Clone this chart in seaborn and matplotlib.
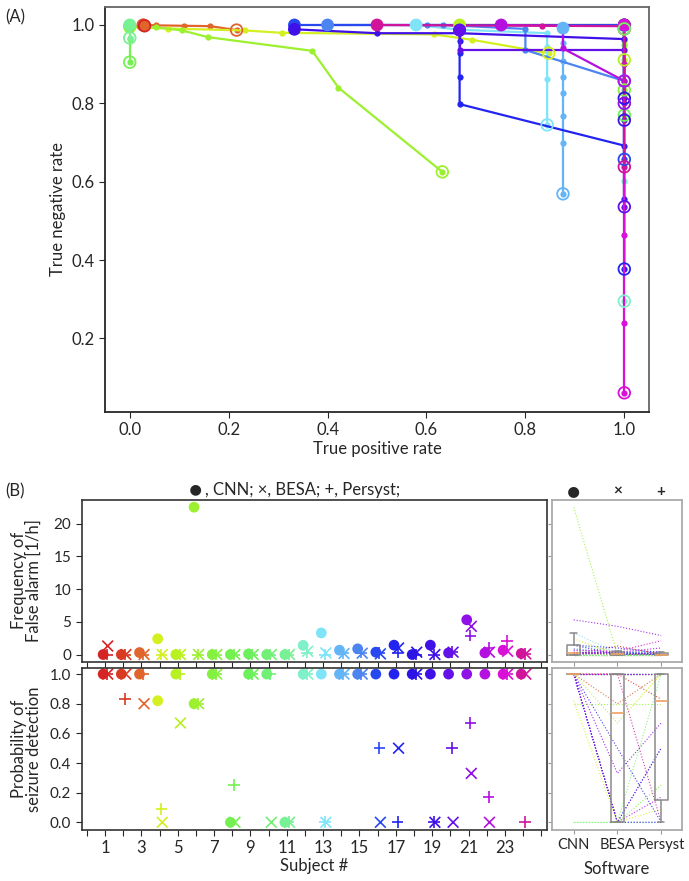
"""
ROC curves per subject (A) and per-subject comparison CNN / BESA / Persyst (B).
"""

import numpy as np
import pandas as pd
import matplotlib
matplotlib.use("Agg")
import matplotlib.pyplot as plt
from matplotlib import font_manager
import seaborn as sns

sns.set_style("ticks")
_names = {f.name for f in font_manager.fontManager.ttflist}
MAIN_FONT = "Lato" if "Lato" in _names else "DejaVu Sans"
NARROW_FONT = "Liberation Sans Narrow" if "Liberation Sans Narrow" in _names else MAIN_FONT
plt.rcParams["font.family"] = [MAIN_FONT, "DejaVu Sans"]

# ── data ──
subjects = list(range(1, 25))
subject_colors = [
    "#d42424", "#d83a22", "#e0642c", "#d4f020", "#b8f020", "#9cf030",
    "#84f040", "#74f050", "#6cf05c", "#70f074", "#78f094", "#80f0c8",
    "#80e4f8", "#64b4f8", "#4c84f0", "#2848f0", "#2424f0", "#2c14e4",
    "#4010e8", "#6410e8", "#9010e8", "#b410e0", "#d810d8", "#d0149c",
]

# (A) true positive / true negative rate along the threshold sweep
roc_tpr = [
    [0.027, 0.030],
    [1.0, 1.0],
    [0.027, 0.054, 0.109, 0.163, 0.216],
    [0.0, 0.077, 0.233, 0.307, 0.615, 0.693, 0.847],
    [0.667, 1.0, 1.0, 1.0],
    [0.0, 0.054, 0.106, 0.158, 0.369, 0.422, 0.632],
    [1.0, 1.0, 1.0],
    [0.0, 0.0, 0.0],
    [1.0, 1.0],
    [1.0, 1.0],
    [0.0, 0.0],
    [1.0, 1.0, 1.0, 1.0],
    [0.579, 0.667, 0.844, 0.844, 0.844, 0.844],
    [0.876, 0.876, 0.876, 0.876, 0.876, 0.876, 0.876, 0.876],
    [0.40, 0.601, 0.633, 0.8, 0.8, 1.0],
    [0.333, 0.5, 1.0, 1.0, 1.0],
    [0.667, 0.667, 0.667, 0.667, 0.667, 1.0, 1.0, 1.0],
    [1.0, 1.0],
    [0.333, 0.5, 0.667, 1.0, 1.0],
    [0.667, 0.667, 1.0, 1.0],
    [1.0, 1.0],
    [0.751, 0.876, 0.876, 1.0],
    [1.0, 1.0, 1.0, 1.0, 1.0],
    [0.5, 0.834, 1.0, 1.0],
]
roc_tnr = [
    [1.0, 0.998],
    [1.0, 0.990],
    [1.0, 0.999, 0.998, 0.997, 0.987],
    [0.995, 0.991, 0.986, 0.980, 0.976, 0.962, 0.928],
    [1.0, 1.0, 0.96, 0.911],
    [0.995, 0.994, 0.986, 0.969, 0.934, 0.840, 0.625],
    [1.0, 0.95, 0.834],
    [0.998, 0.965, 0.905],
    [1.0, 0.770],
    [1.0, 0.990],
    [1.0, 0.967],
    [0.998, 0.90, 0.602, 0.295],
    [1.0, 0.988, 0.979, 0.945, 0.862, 0.745],
    [0.992, 0.953, 0.909, 0.868, 0.826, 0.768, 0.700, 0.569],
    [1.0, 1.0, 1.0, 0.99, 0.936, 0.857],
    [1.0, 1.0, 1.0, 0.90, 0.657],
    [0.987, 0.960, 0.928, 0.867, 0.798, 0.692, 0.555, 0.377],
    [1.0, 0.813],
    [0.989, 0.979, 0.979, 0.964, 0.757],
    [0.987, 0.937, 0.937, 0.536],
    [1.0, 0.80],
    [1.0, 0.998, 0.94, 0.857],
    [1.0, 0.90, 0.464, 0.24, 0.061],
    [1.0, 0.998, 0.997, 0.638],
]

# (B) false alarms per hour and probability of seizure detection
fa_cnn = [0, 0, 0.3, 2.4, 0, 22.5, 0, 0, 0.1, 0, 0, 1.4, 3.3, 0.66, 0.87, 0.36,
          1.43, 0, 1.43, 0.25, 5.3, 0.25, 0.66, 0.15]
fa_besa = [1.3, 0, 0, 0, 0, 0, 0, 0, 0, 0, 0, 0.5, 0.25, 0.15, 0.2, 0.1,
           1.0, 0.36, 0, 0.36, 4.3, 0.36, 0.5, 0.1]
fa_persyst = [0, 0, 0, 0, 0, 0, 0, 0, 0, 0, 0, 0.3, 0, 0.2, 0.3, 0.2,
              0.3, 0, 0, 0.4, 2.9, 1.0, 2.1, 0.1]
pd_cnn = [1, 1, 1, 0.82, 1, 0.8, 1, 0, 1, 1, 0, 1, 1, 1, 1, 1, 1, 1, 1, 1, 1, 1, 1, 1]
pd_besa = [1, 1, 0.8, 0, 0.67, 0.8, 1, 0, 1, 0, 0, 1, 0, 1, 1, 0, 0.5, 1, 0, 0,
           0.33, 0, 1, 1]
pd_persyst = [1, 0.83, 1, 0.09, 1, 0.8, 1, 0.25, 1, 1, 0, 1, 0, 1, 1, 0.5, 0, 1,
              0, 0.5, 0.67, 0.17, 1, 0]
software = ["CNN", "BESA", "Persyst"]

# ── long tables ──
roc_df = pd.DataFrame([
    {"subject": s, "step": i, "tpr": x, "tnr": y}
    for s, xs, ys in zip(subjects, roc_tpr, roc_tnr)
    for i, (x, y) in enumerate(zip(xs, ys))
])
roc_first = roc_df.groupby("subject").head(1)
roc_last = roc_df.groupby("subject").tail(1)

offsets = {"CNN": -0.1, "BESA": 0.15, "Persyst": 0.1}
cmp_df = pd.DataFrame({
    "subject": subjects * 3,
    "software": np.repeat(software, len(subjects)),
    "fa": fa_cnn + fa_besa + fa_persyst,
    "pd": pd_cnn + pd_besa + pd_persyst,
})
cmp_df["xpos"] = cmp_df["subject"] + cmp_df["software"].map(offsets)
cmp_df["cat"] = cmp_df["software"].map({s: i for i, s in enumerate(software)})

palette = dict(zip(subjects, subject_colors))

fig = plt.figure(figsize=(6.89, 8.81), dpi=100)

# ── (A) ──
axA = fig.add_axes([0.1524, 0.5327, 0.7896, 0.4597])
sns.lineplot(data=roc_df, x="tpr", y="tnr", hue="subject", units="subject",
             estimator=None, sort=False, palette=palette, lw=1.6, marker="o",
             markersize=4.5, markeredgewidth=0, legend=False, ax=axA)
sns.scatterplot(data=roc_first, x="tpr", y="tnr", hue="subject", palette=palette,
                s=85, linewidth=0, legend=False, ax=axA, zorder=5)
for _, r in roc_last.iterrows():
    sns.scatterplot(x=[r["tpr"]], y=[r["tnr"]], s=70, facecolor="none",
                    edgecolor=palette[r["subject"]], linewidth=1.3, ax=axA, zorder=6)
axA.set_xlim(-0.05, 1.05)
axA.set_ylim(0.0128, 1.0467)
axA.set_xticks([0.0, 0.2, 0.4, 0.6, 0.8, 1.0])
axA.set_yticks([0.2, 0.4, 0.6, 0.8, 1.0])
axA.tick_params(labelsize=12, length=4)
axA.set_xlabel("True positive rate", fontsize=12, labelpad=2)
axA.set_ylabel("True negative rate", fontsize=12)
for side in ["top", "right"]:
    axA.spines[side].set_visible(True)
    axA.spines[side].set_color("#666666")
for sp in axA.spines.values():
    sp.set_linewidth(1.3)
fig.text(0.008, 0.975, "(A)", fontsize=12)

# ── (B) left panels ──
axF = fig.add_axes([0.1186, 0.2489, 0.6749, 0.1836])
axP = fig.add_axes([0.1186, 0.0579, 0.6749, 0.1842])
mk = {"CNN": ("o", 60, 0), "BESA": ("x", 60, 1.2), "Persyst": ("+", 70, 1.2)}
for ax, col in [(axF, "fa"), (axP, "pd")]:
    for sw in software:
        m, s, lw = mk[sw]
        sub = cmp_df[cmp_df["software"] == sw]
        sns.scatterplot(data=sub, x="xpos", y=col, hue="subject", palette=palette,
                        marker=m, s=s, linewidth=lw, legend=False, ax=ax)
    ax.set_xlim(-0.28, 25.3)
    ax.set_xticks(range(0, 26))
    ax.set_xlabel("")
    ax.tick_params(labelsize=11, length=4, direction="out")
    for sp in ax.spines.values():
        sp.set_visible(True)
        sp.set_color("#333333")
        sp.set_linewidth(1.2)

axF.set_ylim(-1.1, 23.6)
axF.set_yticks([0, 5, 10, 15, 20])
axF.set_xticklabels([])
axF.set_ylabel("Frequency of\nFalse alarm [1/h]", fontsize=12, linespacing=0.95)

axP.set_ylim(-0.052, 1.043)
axP.set_yticks([0.0, 0.2, 0.4, 0.6, 0.8, 1.0])
axP.set_yticklabels(["0.0", "0.2", "0.4", "0.6", "0.8", "1.0"])
axP.set_xticklabels([str(i) if i % 2 == 1 and i <= 23 else "" for i in range(0, 26)],
                    fontsize=12)
axP.set_xlabel("Subject #", fontsize=12, labelpad=1)
axP.set_ylabel("Probability of\nseizure detection", fontsize=12, linespacing=0.95)
axF.yaxis.set_label_coords(-0.085, 0.5)
axP.yaxis.set_label_coords(-0.085, 0.5)

fig.text(0.008, 0.437, "(B)", fontsize=12)
fig.text(0.283, 0.444, "●", fontsize=16, ha="center", va="center")
fig.text(0.297, 0.444, ", CNN; ×, BESA; +, Persyst;", fontsize=12, ha="left",
         va="center")

# ── (B) right panels ──
axFr = fig.add_axes([0.8016, 0.2489, 0.1878, 0.1836])
axPr = fig.add_axes([0.8016, 0.0579, 0.1878, 0.1842])
for ax, col, ylim in [(axFr, "fa", axF.get_ylim()), (axPr, "pd", axP.get_ylim())]:
    sns.lineplot(data=cmp_df, x="cat", y=col, hue="subject", units="subject",
                 estimator=None, palette=palette, lw=0.8, linestyle=":",
                 alpha=0.85, legend=False, ax=ax)
    sns.boxplot(data=cmp_df, x="cat", y=col, native_scale=True, fill=False,
                color="#8a8a8a", width=0.3, showfliers=False, linewidth=1.1,
                medianprops={"color": "#f0a060", "linewidth": 1.2}, ax=ax)
    ax.set_xlim(-0.49, 2.47)
    ax.set_ylim(ylim)
    ax.set_yticks(axF.get_yticks() if col == "fa" else axP.get_yticks())
    ax.set_xticks([0, 1, 2])
    ax.tick_params(labelleft=False, length=3, color="#999999")
    ax.set_ylabel("")
    ax.set_xlabel("")
    for sp in ax.spines.values():
        sp.set_visible(True)
        sp.set_color("#aaaaaa")
        sp.set_linewidth(1.3)
axFr.set_xticklabels([])
axPr.set_xticklabels(software, fontsize=10.5)
axPr.tick_params(axis="x", pad=3)
axPr.set_xlabel("Software", fontsize=12, labelpad=6)
for i, sym in enumerate(["●", "×", "+"]):
    axFr.text(i, 1.05, sym, transform=axFr.get_xaxis_transform(), ha="center",
              va="center", fontsize=16 if i == 0 else 11, fontweight="bold")

plt.savefig("out.png", dpi=100)
plt.close()
